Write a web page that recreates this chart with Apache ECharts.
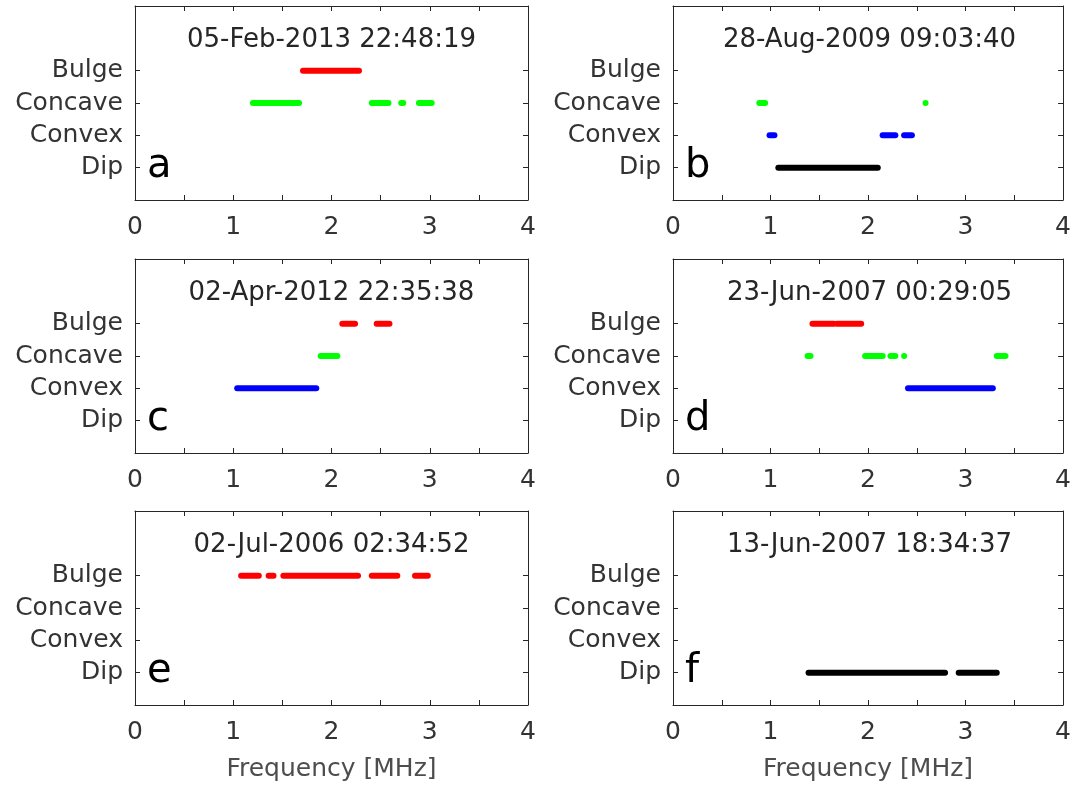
<!DOCTYPE html>
<html lang="en">
<head>
  <meta charset="UTF-8" />
  <title>Frequency classes</title>
  <script src="https://cdn.jsdelivr.net/npm/echarts@6.0.0/dist/echarts.min.js"></script>
</head>
<body style="margin:0;overflow:hidden;background:#fff;">
  <div id="panel" style="width:1074px;height:787px;"></div>
  <script>
    // y categories, bottom to top; blank slots keep the MATLAB-like 0..6 range
    var categories = ['Dip', 'Convex', 'Concave', 'Bulge'];
    var yLevels = [''].concat(categories, ['', '']);

    var panelLetters = ['a', 'b', 'c', 'd', 'e', 'f'];
    var panelTitles = [
      '05-Feb-2013 22:48:19', '28-Aug-2009 09:03:40',
      '02-Apr-2012 22:35:38', '23-Jun-2007 00:29:05',
      '02-Jul-2006 02:34:52', '13-Jun-2007 18:34:37'
    ];

    // [class, first MHz, last MHz] of each run of detections
    var segA = [
      ['Bulge', 1.71, 2.28],
      ['Concave', 1.20, 1.67], ['Concave', 2.41, 2.58], ['Concave', 2.71, 2.73], ['Concave', 2.89, 3.02]
    ];
    var segB = [
      ['Concave', 0.885, 0.945], ['Concave', 2.59, 2.59],
      ['Convex', 0.99, 1.04], ['Convex', 2.15, 2.28], ['Convex', 2.37, 2.45],
      ['Dip', 1.08, 2.10]
    ];
    var segC = [
      ['Bulge', 2.11, 2.24], ['Bulge', 2.46, 2.59],
      ['Concave', 1.89, 2.06],
      ['Convex', 1.04, 1.845]
    ];
    var segD = [
      ['Bulge', 1.43, 1.65], ['Bulge', 1.68, 1.93],
      ['Concave', 1.38, 1.41], ['Concave', 1.97, 2.15], ['Concave', 2.23, 2.28], ['Concave', 2.37, 2.37], ['Concave', 3.32, 3.41],
      ['Convex', 2.41, 3.28]
    ];
    var segE = [
      ['Bulge', 1.08, 1.26], ['Bulge', 1.36, 1.41], ['Bulge', 1.51, 2.27], ['Bulge', 2.41, 2.67], ['Bulge', 2.85, 2.98]
    ];
    var segF = [
      ['Dip', 1.39, 2.79], ['Dip', 2.93, 3.32]
    ];
    var panelSegs = [segA, segB, segC, segD, segE, segF];

    var classColors = { Dip: '#000000', Convex: '#0000ff', Concave: '#00ff00', Bulge: '#ff0000' };

    var colLeft = [135, 673];
    var rowTop = [6, 259, 511];
    var plotW = 393, plotH = 194;
    var axisColor = '#262626';
    var textColor = '#333333';
    var fontFamily = 'DejaVu Sans';

    var myChart = echarts.init(document.getElementById('panel'));

    function renderSeg(params, api) {
      var p1 = api.coord([api.value(0), api.value(2)]);
      var p2 = api.coord([api.value(1), api.value(2)]);
      var h = 6;
      return {
        type: 'rect',
        shape: { x: p1[0] - h / 2, y: p1[1] - h / 2, width: p2[0] - p1[0] + h, height: h, r: h / 2 },
        style: { fill: api.visual('color') }
      };
    }

    function isClassLevel(index) {
      return index >= 1 && index <= categories.length;
    }

    var grids = [], xAxes = [], yAxes = [], series = [], graphics = [];

    for (var i = 0; i < 6; i++) {
      var col = i % 2, row = Math.floor(i / 2);
      var gLeft = colLeft[col], gTop = rowTop[row];
      grids.push({ left: gLeft, top: gTop, width: plotW, height: plotH });

      ['bottom', 'top'].forEach(function (pos) {
        xAxes.push({
          type: 'value', gridIndex: i, position: pos, min: 0, max: 4, interval: 0.5,
          name: (pos === 'bottom' && row === 2) ? 'Frequency [MHz]' : '',
          nameLocation: 'middle', nameGap: 52,
          nameTextStyle: { fontSize: 25, color: '#4d4d4d', fontFamily: fontFamily },
          axisLine: { show: true, onZero: false, lineStyle: { color: axisColor, width: 1 } },
          axisTick: { show: true, inside: true, length: 5, lineStyle: { color: axisColor } },
          axisLabel: {
            show: pos === 'bottom', fontSize: 25, color: textColor, margin: 15, fontFamily: fontFamily,
            formatter: function (v) { return v % 1 === 0 ? String(v) : ''; }
          },
          splitLine: { show: false }
        });
      });

      ['left', 'right'].forEach(function (pos) {
        yAxes.push({
          type: 'category', gridIndex: i, position: pos, data: yLevels, boundaryGap: false,
          axisLine: { show: true, onZero: false, lineStyle: { color: axisColor, width: 1 } },
          axisTick: { show: true, inside: true, length: 5, interval: isClassLevel, lineStyle: { color: axisColor } },
          axisLabel: {
            show: pos === 'left', interval: 0, fontSize: 25, color: textColor,
            margin: 12, fontFamily: fontFamily
          },
          splitLine: { show: false }
        });
      });

      var segs = panelSegs[i];
      categories.forEach(function (cat) {
        var data = segs.filter(function (s) { return s[0] === cat; }).map(function (s) {
          return [s[1], s[2], categories.indexOf(cat) + 1];
        });
        if (!data.length) return;
        series.push({
          type: 'custom', name: cat, xAxisIndex: i * 2, yAxisIndex: i * 2,
          renderItem: renderSeg, itemStyle: { color: classColors[cat] },
          encode: { x: [0, 1], y: 2 }, data: data, silent: true, clip: true
        });
      });

      graphics.push({
        type: 'text', x: gLeft + plotW / 2, y: gTop + 34,
        style: {
          text: panelTitles[i], fontSize: 26, fill: '#262626', fontFamily: fontFamily,
          textAlign: 'center', textVerticalAlign: 'middle'
        }
      });
      graphics.push({
        type: 'text', x: gLeft + 12, y: gTop + 161,
        style: {
          text: panelLetters[i], fontSize: 40, fill: '#000', fontFamily: fontFamily,
          textAlign: 'left', textVerticalAlign: 'middle'
        }
      });
    }

    var option = {
      animation: false,
      grid: grids,
      xAxis: xAxes,
      yAxis: yAxes,
      series: series,
      graphic: graphics
    };

    myChart.setOption(option);

    window.addEventListener('resize', function () {
      myChart.resize();
    });
  </script>
</body>
</html>
